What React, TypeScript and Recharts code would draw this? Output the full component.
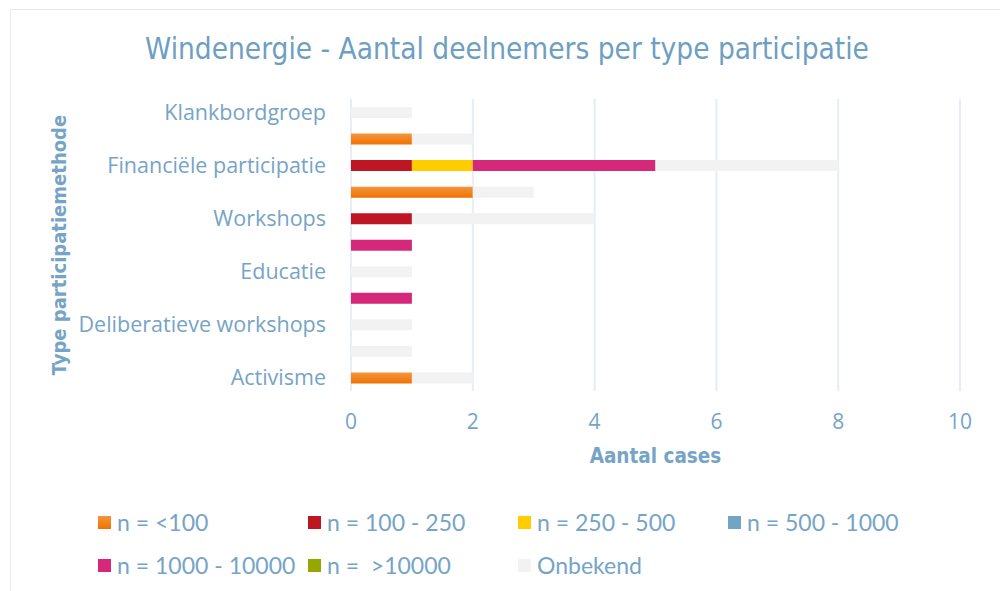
import React from 'react';
import { BarChart, Bar, XAxis, YAxis, CartesianGrid, Legend } from 'recharts';

// rows top to bottom; only every other label is shown in the original
const categories = [
  'Klankbordgroep',
  'Informatieavond',
  'Financiële participatie',
  'Enquête',
  'Workshops',
  'Inspraakavond',
  'Educatie',
  'Burgerpanel',
  'Deliberatieve workshops',
  'Excursie',
  'Activisme',
];

const nLt100 = [0, 1, 0, 2, 0, 0, 0, 0, 0, 0, 1];
const n100to250 = [0, 0, 1, 0, 1, 0, 0, 0, 0, 0, 0];
const n250to500 = [0, 0, 1, 0, 0, 0, 0, 0, 0, 0, 0];
const n500to1000 = [0, 0, 0, 0, 0, 0, 0, 0, 0, 0, 0];
const n1000to10000 = [0, 0, 3, 0, 0, 1, 0, 1, 0, 0, 0];
const nGt10000 = [0, 0, 0, 0, 0, 0, 0, 0, 0, 0, 0];
const onbekend = [1, 1, 3, 1, 3, 0, 1, 0, 1, 1, 1];

const xTicks = [0, 2, 4, 6, 8, 10];

const series = [
  { key: 'lt100', name: 'n = <100', values: nLt100, color: 'url(#orangeGrad)' },
  { key: 'r100', name: 'n = 100 - 250', values: n100to250, color: '#BE1622' },
  { key: 'r250', name: 'n = 250 - 500', values: n250to500, color: '#FFCC00' },
  { key: 'r500', name: 'n = 500 - 1000', values: n500to1000, color: '#72A4C6' },
  { key: 'r1000', name: 'n = 1000 - 10000', values: n1000to10000, color: '#D6287A' },
  { key: 'gt10000', name: 'n =  >10000', values: nGt10000, color: '#95A800' },
  { key: 'onbekend', name: 'Onbekend', values: onbekend, color: '#F2F2F2' },
];

const data = categories.map((name, i) => {
  const row: Record<string, any> = { name };
  series.forEach((s) => (row[s.key] = s.values[i]));
  return row;
});

const TEXT = '#76A4C6';
const NARROW = '"DejaVu Sans Condensed", "DejaVu Sans", sans-serif';
const BODY = '"Open Sans", sans-serif';

function renderLegend(props: any) {
  const order = series.map((s) => s.name);
  const payload = [...(props.payload || [])].sort(
    (a: any, b: any) => order.indexOf(a.value) - order.indexOf(b.value)
  );
  return (
    <div style={{ display: 'grid', gridTemplateColumns: 'repeat(4, 210px)', rowGap: 21, paddingLeft: 98 }}>
      {payload.map((entry: any) => (
        <div key={entry.value} style={{ display: 'flex', alignItems: 'center', height: 22 }}>
          <svg width={13} height={13} style={{ marginRight: 6 }}>
            <rect width={13} height={13} fill={entry.color} />
          </svg>
          <span style={{ fontFamily: 'Lato, sans-serif', fontSize: 23, color: TEXT, whiteSpace: 'pre' }}>
            {entry.value}
          </span>
        </div>
      ))}
    </div>
  );
}

export default function App() {
  return (
    <div style={{ position: 'absolute', left: 0, top: 0, width: 1000, height: 591, background: '#fff', overflow: 'hidden' }}>
      <div style={{ position: 'absolute', left: 10, top: 9, width: 1000, height: 600, border: '1.5px solid #E4EBF2' }} />
      <svg width={1000} height={80} style={{ position: 'absolute', left: 0, top: 0 }}>
        <text x={507} y={59} textAnchor="middle" fill="#6E9FC3" fontFamily={NARROW} fontSize={29.5}>
          Windenergie - Aantal deelnemers per type participatie
        </text>
      </svg>
      <div style={{ position: 'absolute', left: 0, top: 0 }}>
        <BarChart
          width={1000}
          height={591}
          data={data}
          layout="vertical"
          margin={{ top: 99, right: 40, left: 0, bottom: 0 }}
          barSize={11}
        >
          <defs>
            <linearGradient id="orangeGrad" x1="0" y1="0" x2="0" y2="1">
              <stop offset="0%" stopColor="#F5953F" />
              <stop offset="100%" stopColor="#EE7300" />
            </linearGradient>
          </defs>
          <CartesianGrid horizontal={false} stroke="#E6EDF5" strokeWidth={2} />
          <XAxis
            type="number"
            domain={[0, 10]}
            ticks={xTicks}
            height={200}
            axisLine={false}
            tickLine={false}
            tickSize={0}
            tickMargin={23}
            tick={{ fill: TEXT, fontSize: 21, fontFamily: BODY }}
            label={{
              content: ({ viewBox }: any) => (
                <text
                  x={viewBox.x + viewBox.width / 2}
                  y={viewBox.y + 72}
                  textAnchor="middle"
                  fill={TEXT}
                  fontFamily={NARROW}
                  fontWeight="bold"
                  fontSize={20.5}
                >
                  Aantal cases
                </text>
              ),
            }}
          />
          <YAxis
            type="category"
            dataKey="name"
            width={351}
            interval={1}
            axisLine={false}
            tickLine={false}
            tickSize={0}
            tickMargin={25}
            tick={{ fill: TEXT, fontSize: 21.5, fontFamily: BODY }}
            label={{
              content: ({ viewBox }: any) => {
                const cx = 66;
                const cy = viewBox.y + viewBox.height / 2;
                return (
                  <text
                    x={cx}
                    y={cy}
                    transform={`rotate(-90, ${cx}, ${cy})`}
                    textAnchor="middle"
                    fill={TEXT}
                    fontFamily={NARROW}
                    fontWeight="bold"
                    fontSize={20}
                  >
                    Type participatiemethode
                  </text>
                );
              },
            }}
          />
          <Legend
            layout="horizontal"
            verticalAlign="middle"
            align="center"
            wrapperStyle={{ top: 511, left: 0, width: 1000 }}
            content={renderLegend}
          />
          {series.map((s) => (
            <Bar key={s.key} dataKey={s.key} name={s.name} stackId="a" fill={s.color} isAnimationActive={false} />
          ))}
        </BarChart>
      </div>
    </div>
  );
}
